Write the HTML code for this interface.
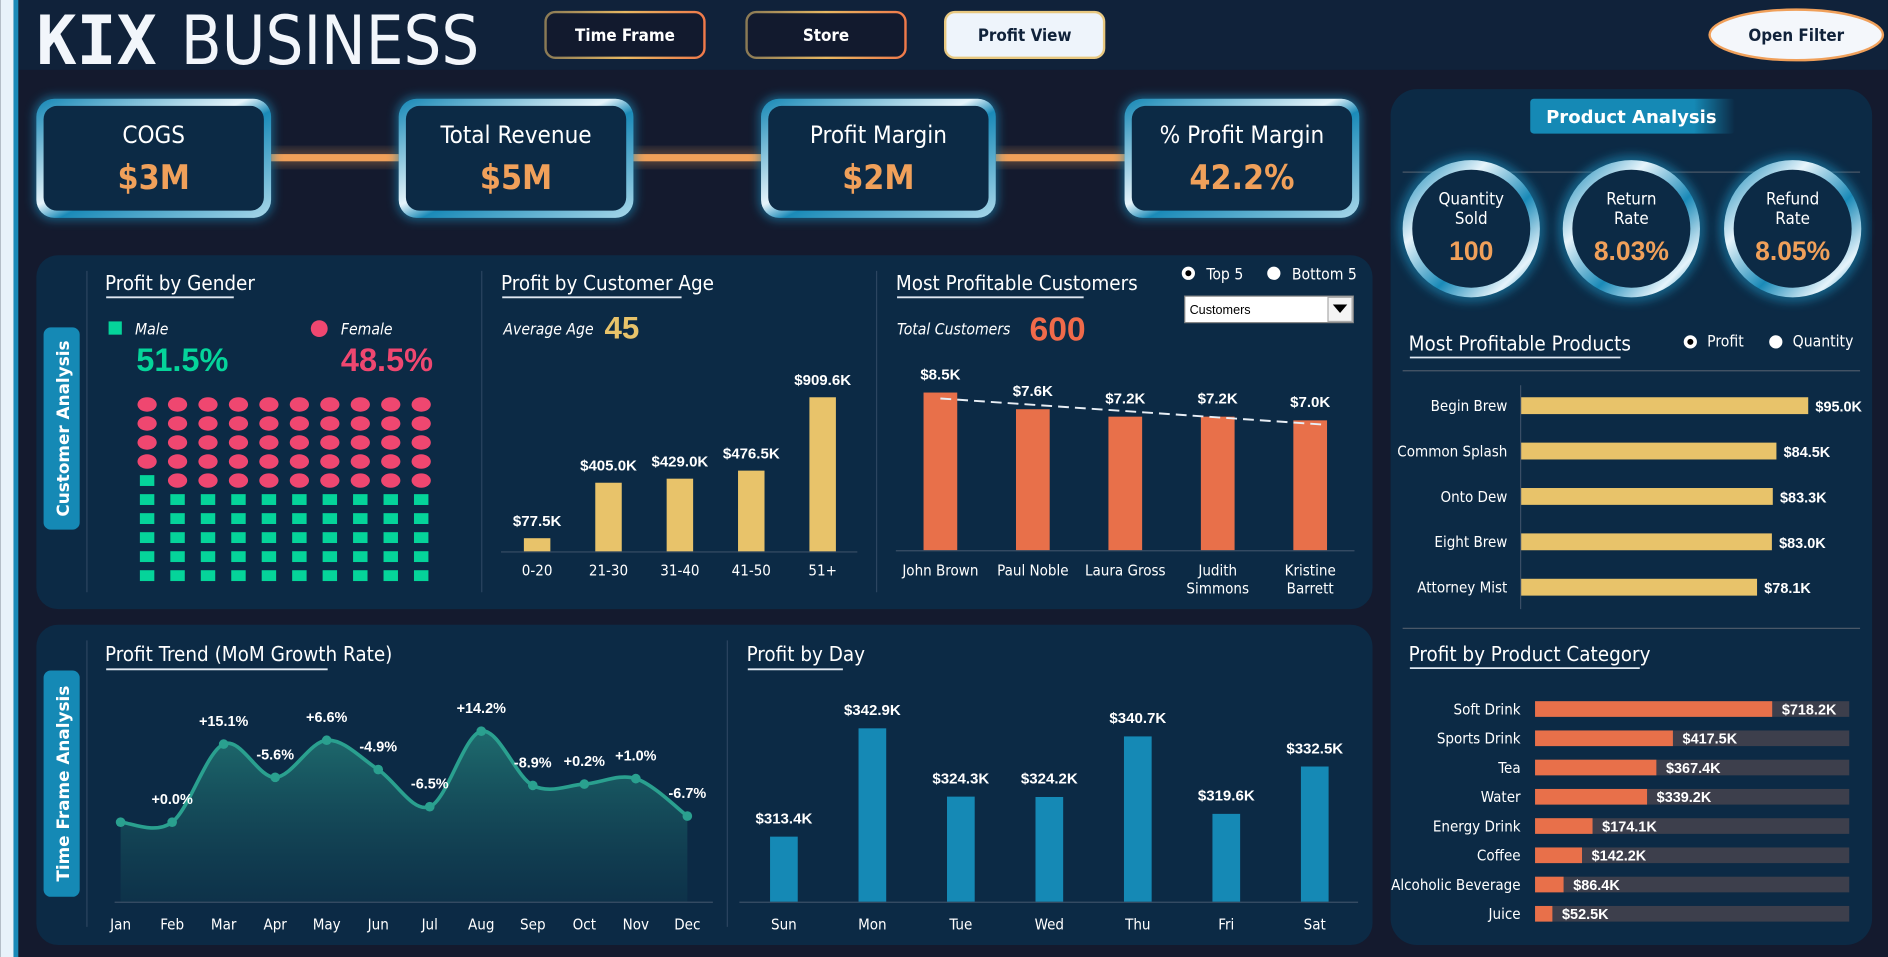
<!DOCTYPE html>
<html><head><meta charset="utf-8"><title>KIX Business Dashboard</title>
<style>
html,body{margin:0;padding:0;background:#141a2e;overflow:hidden;width:1888px;height:957px}
svg{display:block}
text{font-family:"DejaVu Sans Condensed","DejaVu Sans","Liberation Sans",sans-serif}
.b{font-family:"Liberation Sans",Arial,sans-serif;font-weight:bold}
</style></head>
<body>
<svg id="dash" width="1888" height="957" viewBox="0 0 1568 795" xmlns="http://www.w3.org/2000/svg">
<defs>
<linearGradient id="cardG" x1="0" y1="0" x2="1" y2="1">
<stop offset="0" stop-color="#1587b5"/><stop offset="0.45" stop-color="#e6f4fb"/><stop offset="0.55" stop-color="#1a8ab8"/><stop offset="1" stop-color="#a9d8ea"/></linearGradient>
<linearGradient id="btnG" x1="0" y1="0" x2="1" y2="0"><stop offset="0" stop-color="#8a7a55"/><stop offset="0.5" stop-color="#e8b862"/><stop offset="1" stop-color="#f07a4a"/></linearGradient>
<linearGradient id="ringG" x1="0" y1="0" x2="1" y2="1"><stop offset="0" stop-color="#1a8ab8"/><stop offset="0.3" stop-color="#e6f4fb"/><stop offset="0.6" stop-color="#1a8ab8"/><stop offset="0.85" stop-color="#e6f4fb"/><stop offset="1" stop-color="#1a8ab8"/></linearGradient>
<linearGradient id="areaG" x1="0" y1="0" x2="0" y2="1"><stop offset="0" stop-color="#1f6f70" stop-opacity="0.95"/><stop offset="1" stop-color="#0f3a4e" stop-opacity="0.5"/></linearGradient>
<linearGradient id="tabG" x1="0" y1="0" x2="1" y2="0"><stop offset="0" stop-color="#1589b5"/><stop offset="0.8" stop-color="#1589b5"/><stop offset="1" stop-color="#0c2a45"/></linearGradient>
<filter id="glow" x="-20%" y="-20%" width="140%" height="140%"><feGaussianBlur stdDeviation="4"/></filter>
</defs>

<!-- page chrome -->
<rect x="0" y="0" width="1568" height="795" fill="#141a2e"/>
<rect x="14" y="0" width="1554" height="58" fill="#10223a"/>
<rect x="0" y="0" width="11" height="795" fill="#e8f2fa"/>
<rect x="11" y="0" width="4" height="795" fill="#1a8ab8"/>

<g>
<text x="30" y="53" fill="#f2f6fb" font-size="56" font-weight="bold" style="font-family:'DejaVu Sans Mono',monospace" textLength="100" lengthAdjust="spacingAndGlyphs">KIX</text>
<text x="150" y="53" fill="#f2f6fb" font-size="56" textLength="248" lengthAdjust="spacingAndGlyphs">BUSINESS</text>
</g>

<g>
<rect x="453" y="10" width="132" height="38" rx="8" fill="#121a2e" stroke="url(#btnG)" stroke-width="2"/>
<text x="519" y="34" fill="#fff" font-size="14" font-weight="bold" text-anchor="middle">Time Frame</text></g>
<g>
<rect x="620" y="10" width="132" height="38" rx="8" fill="#121a2e" stroke="url(#btnG)" stroke-width="2"/>
<text x="686" y="34" fill="#fff" font-size="14" font-weight="bold" text-anchor="middle">Store</text></g>
<g>
<rect x="785" y="10" width="132" height="38" rx="8" fill="#eef4fb" stroke="#e8c880" stroke-width="2"/>
<text x="851" y="34" fill="#10223a" font-size="14" font-weight="bold" text-anchor="middle">Profit View</text></g>
<g>
<ellipse cx="1492" cy="29" rx="72" ry="21" fill="#f4f7fb" stroke="#f0a05a" stroke-width="2"/>
<text x="1492" y="34" fill="#10223a" font-size="14" font-weight="bold" text-anchor="middle">Open Filter</text></g>

<!-- KPI cards -->
<g id="kpis"></g>

<!-- customer analysis panel -->
<rect x="30" y="212" width="1110" height="294" rx="18" fill="#0c2a45"/>
<g>
<rect x="36" y="272" width="30" height="168" rx="6" fill="#1589b5"/>
<text transform="translate(57,356) rotate(-90)" fill="#fff" font-size="14" font-weight="bold" text-anchor="middle" style="font-family:'DejaVu Sans',sans-serif">Customer Analysis</text></g>
<line x1="72" y1="225" x2="72" y2="492" stroke="#2c4560"/>
<line x1="400" y1="225" x2="400" y2="492" stroke="#2c4560"/>
<line x1="728" y1="225" x2="728" y2="492" stroke="#2c4560"/>

<g>
<text x="87" y="241" fill="#fff" font-size="17">Profit by Gender</text>
<line x1="88" y1="247" x2="194" y2="247" stroke="#dfe8f2" stroke-width="1.5"/></g>
<g>
<rect x="90" y="267" width="11" height="11" fill="#05d49a"/>
<text x="112" y="278" fill="#fff" font-size="13" font-style="italic">Male</text>
<circle cx="265" cy="273" r="7" fill="#ef4770"/>
<text x="283" y="278" fill="#fff" font-size="13" font-style="italic">Female</text>
<text x="113" y="308" fill="#05d49a" font-size="27" class="b">51.5%</text>
<text x="283" y="308" fill="#ef4770" font-size="27" class="b">48.5%</text></g>
<g id="waffle"></g>

<g>
<text x="416" y="241" fill="#fff" font-size="17">Profit by Customer Age</text>
<line x1="417" y1="247" x2="566" y2="247" stroke="#dfe8f2" stroke-width="1.5"/></g>
<text x="418" y="278" fill="#fff" font-size="13" font-style="italic">Average Age</text>
<text x="502" y="281" fill="#e8c36a" font-size="26" class="b">45</text>
<g id="ageChart"></g>

<g>
<text x="744" y="241" fill="#fff" font-size="17">Most Profitable Customers</text>
<line x1="745" y1="247" x2="900" y2="247" stroke="#dfe8f2" stroke-width="1.5"/></g>
<text x="745" y="278" fill="#fff" font-size="13" font-style="italic">Total Customers</text>
<text x="855" y="283" fill="#f06a4a" font-size="28" class="b">600</text>
<g><circle cx="987" cy="227" r="5.5" fill="#fff"/><circle cx="987" cy="227" r="2.5" fill="#000"/><text x="1002" y="232" fill="#fff" font-size="13">Top 5</text></g>
<g><circle cx="1058" cy="227" r="5.5" fill="#fff"/><text x="1073" y="232" fill="#fff" font-size="13">Bottom 5</text></g>
<g>
<rect x="984" y="246" width="140" height="22" fill="#fff" stroke="#888"/>
<text x="988" y="261" fill="#000" font-size="10.5" style="font-family:'Liberation Sans',sans-serif">Customers</text>
<rect x="1103" y="247" width="20" height="20" fill="#f4f4f4" stroke="#aaa"/>
<path d="M1107,253 L1119,253 L1113,260 Z" fill="#000"/></g>
<g id="custChart"></g>

<!-- time frame panel -->
<rect x="30" y="519" width="1110" height="266" rx="18" fill="#0c2a45"/>
<g>
<rect x="36" y="557" width="30" height="188" rx="6" fill="#1589b5"/>
<text transform="translate(57,651) rotate(-90)" fill="#fff" font-size="14" font-weight="bold" text-anchor="middle" style="font-family:'DejaVu Sans',sans-serif">Time Frame Analysis</text></g>
<line x1="72" y1="532" x2="72" y2="770" stroke="#2c4560"/>
<line x1="604" y1="532" x2="604" y2="770" stroke="#2c4560"/>
<g>
<text x="87" y="549" fill="#fff" font-size="17">Profit Trend (MoM Growth Rate)</text>
<line x1="88" y1="556" x2="272" y2="556" stroke="#dfe8f2" stroke-width="1.5"/></g>
<g id="trendChart"></g>
<g>
<text x="620" y="549" fill="#fff" font-size="17">Profit by Day</text>
<line x1="621" y1="556" x2="700" y2="556" stroke="#dfe8f2" stroke-width="1.5"/></g>
<g id="dayChart"></g>

<!-- product panel -->
<rect x="1155" y="74" width="400" height="711" rx="22" fill="#0c2a45"/>
<g>
<rect x="1271" y="82" width="170" height="29" rx="3" fill="url(#tabG)"/>
<text x="1355" y="102" fill="#fff" font-size="15" font-weight="bold" text-anchor="middle" style="font-family:'DejaVu Sans',sans-serif">Product Analysis</text></g>
<line x1="1165" y1="143" x2="1545" y2="143" stroke="#4a5868"/>
<line x1="1165" y1="308" x2="1545" y2="308" stroke="#4a5868"/>
<g id="rings"></g>
<g>
<text x="1170" y="291" fill="#fff" font-size="17">Most Profitable Products</text>
<line x1="1171" y1="297" x2="1346" y2="297" stroke="#dfe8f2" stroke-width="1.5"/></g>
<g><circle cx="1404" cy="284" r="5.5" fill="#fff"/><circle cx="1404" cy="284" r="2.5" fill="#000"/><text x="1418" y="288" fill="#fff" font-size="13">Profit</text></g>
<g><circle cx="1475" cy="284" r="5.5" fill="#fff"/><text x="1489" y="288" fill="#fff" font-size="13">Quantity</text></g>
<line x1="1165" y1="522" x2="1545" y2="522" stroke="#4a5868"/>
<g id="prodChart"></g>
<g>
<text x="1170" y="549" fill="#fff" font-size="17">Profit by Product Category</text>
<line x1="1171" y1="555" x2="1362" y2="555" stroke="#dfe8f2" stroke-width="1.5"/></g>
<g id="catChart"></g>
</svg>

<script>
// ---- data ----
const kpiTitles = ["COGS","Total Revenue","Profit Margin","% Profit Margin"];
const kpiValues = ["$3M","$5M","$2M","42.2%"];
const ringTitles = [["Quantity","Sold"],["Return","Rate"],["Refund","Rate"]];
const ringValues = ["100","8.03%","8.05%"];
const femaleCount = 49;
const ageGroups = ["0-20","21-30","31-40","41-50","51+"];
const ageProfit = [77.5,405.0,429.0,476.5,909.6];
const customerNames = [["John Brown"],["Paul Noble"],["Laura Gross"],["Judith","Simmons"],["Kristine","Barrett"]];
const customerProfit = [8.5,7.6,7.2,7.2,7.0];
const months = ["Jan","Feb","Mar","Apr","May","Jun","Jul","Aug","Sep","Oct","Nov","Dec"];
const monthProfit = [160,160,184.2,173.9,185.4,176.3,164.8,188.2,171.4,171.8,173.5,161.9];
const momLabels = ["","+0.0%","+15.1%","-5.6%","+6.6%","-4.9%","-6.5%","+14.2%","-8.9%","+0.2%","+1.0%","-6.7%"];
const days = ["Sun","Mon","Tue","Wed","Thu","Fri","Sat"];
const dayProfit = [313.4,342.9,324.3,324.2,340.7,319.6,332.5];
const products = ["Begin Brew","Common Splash","Onto Dew","Eight Brew","Attorney Mist"];
const productProfit = [95.0,84.5,83.3,83.0,78.1];
const categories = ["Soft Drink","Sports Drink","Tea","Water","Energy Drink","Coffee","Alcoholic Beverage","Juice"];
const categoryProfit = [718.2,417.5,367.4,339.2,174.1,142.2,86.4,52.5];

const NS="http://www.w3.org/2000/svg";
function mk(tag, attrs, parent){const e=document.createElementNS(NS,tag);for(const k in attrs)e.setAttribute(k,attrs[k]);parent.appendChild(e);return e;}
function txt(s, attrs, parent){const e=mk('text',attrs,parent);e.textContent=s;return e;}
const $=id=>document.getElementById(id);

// KPI cards
const kpiX=[30,331,632,934];
const kg=$('kpis');
for(let i=0;i<3;i++){
  const c=mk('rect',{x:kpiX[i]+195,y:128,width:kpiX[i+1]-kpiX[i]-195,height:6,fill:'#f0a05a'},kg);
  
  
  mk('rect',{x:kpiX[i]+195,y:124,width:kpiX[i+1]-kpiX[i]-195,height:14,fill:'#f0a05a',opacity:0.3,filter:'url(#glow)'},kg);
}
kpiTitles.forEach((t,i)=>{
  const g=mk('g',{},kg);
  
  
  mk('rect',{x:kpiX[i]-2,y:80,width:199,height:103,rx:16,fill:'#1a8ab8',opacity:0.6,filter:'url(#glow)'},g);
  mk('rect',{x:kpiX[i],y:82,width:195,height:99,rx:15,fill:'url(#cardG)'},g);
  mk('rect',{x:kpiX[i]+6,y:88,width:183,height:87,rx:11,fill:'#0c2a45'},g);
  txt(t,{x:kpiX[i]+97.5,y:119,fill:'#fff','font-size':20,'text-anchor':'middle'},g);
  txt(kpiValues[i],{x:kpiX[i]+97.5,y:157,fill:'#f0a05a','font-size':28,'font-weight':'bold','text-anchor':'middle'},g);
});

// rings
const ringX=[1222,1355,1489], rg=$('rings');
ringTitles.forEach((t,i)=>{
  const g=mk('g',{},rg);
  
  
  mk('circle',{cx:ringX[i],cy:190,r:56,fill:'none',stroke:'#1a8ab8','stroke-width':10,opacity:0.6,filter:'url(#glow)'},g);
  mk('circle',{cx:ringX[i],cy:190,r:53,fill:'#0c2a45',stroke:'url(#ringG)','stroke-width':8},g);
  txt(t[0],{x:ringX[i],y:170,fill:'#fff','font-size':14,'text-anchor':'middle'},g);
  txt(t[1],{x:ringX[i],y:186,fill:'#fff','font-size':14,'text-anchor':'middle'},g);
  txt(ringValues[i],{x:ringX[i],y:216,fill:'#f0a05a','font-size':22,'font-weight':'bold','text-anchor':'middle','class':'b'},g);
});

// waffle
const wg=$('waffle');
for(let r=0;r<10;r++)for(let c=0;c<10;c++){
  const idx=r*10+c, cx=122+c*25.3, cy=336+r*15.8;
  // female fills from bottom-right backwards: last femaleCount cells in reverse order fill top
  const fromEnd=99-idx; // position counting from end
  const isFemale=(idx>=100-100) && ( (99-idx) >= (100-femaleCount) ? false : true );
  let el;
  // top cells are female except the first cell of the row where female run ends
  const femaleCells = idx < 50 && !(idx===40 && femaleCount<50) ;
  if(idx < 50 && (idx!==40 || femaleCount>=50)){
    el=mk('ellipse',{cx:cx,cy:cy,rx:8,ry:6,fill:'#ef4770'},wg);
    
  } else {
    el=mk('rect',{x:cx-6,y:cy-4.5,width:12,height:9,fill:'#05d49a'},wg);
    
  }
  
}

// age chart
const ageG=$('ageChart'), ageX=i=>446+i*59.3, ageY=v=>458-v*0.1407;
mk('line',{x1:416,y1:458.5,x2:712,y2:458.5,stroke:'#3a4f66'},ageG);
ageGroups.forEach((a,i)=>{
  const b=mk('rect',{x:ageX(i)-11,y:ageY(ageProfit[i]),width:22,height:458-ageY(ageProfit[i]),fill:'#e8c36a'},ageG);
  
  
  txt('$'+ageProfit[i].toFixed(1)+'K',{x:ageX(i),y:ageY(ageProfit[i])-10,fill:'#fff','font-size':12.5,'text-anchor':'middle','class':'b'},ageG);
  txt(a,{x:ageX(i),y:478,fill:'#fff','font-size':12.5,'text-anchor':'middle'},ageG);
});

// customers chart
const cg=$('custChart'), cX=i=>781+i*76.8, cY=v=>457-v*15.4;
mk('line',{x1:744,y1:457.5,x2:1125,y2:457.5,stroke:'#3a4f66'},cg);
customerNames.forEach((n,i)=>{
  const b=mk('rect',{x:cX(i)-14,y:cY(customerProfit[i]),width:28,height:457-cY(customerProfit[i]),fill:'#e8704a'},cg);
  
  
  txt('$'+customerProfit[i].toFixed(1)+'K',{x:cX(i),y:cY(customerProfit[i])-11,fill:'#fff','font-size':12.5,'text-anchor':'middle','class':'b'},cg);
  n.forEach((l,j)=>txt(l,{x:cX(i),y:478+j*15,fill:'#fff','font-size':12.5,'text-anchor':'middle'},cg));
});
{ const n=customerProfit.length, mx=(n-1)/2, my=customerProfit.reduce((a,b)=>a+b,0)/n;
  let sxy=0,sxx=0; customerProfit.forEach((v,i)=>{sxy+=(i-mx)*(v-my);sxx+=(i-mx)*(i-mx);});
  const s=sxy/sxx;
  const tl=mk('line',{x1:cX(0),y1:cY(my-s*mx),x2:cX(n-1)+14,y2:cY(my+s*(n-1-mx)+s*0.18),stroke:'#e8eef5','stroke-width':1.6,'stroke-dasharray':'9,5'},cg);
  
  
}

// trend chart
const tg=$('trendChart'), tX=i=>100+i*42.8, tY=v=>683-(v-160)*2.68;
const pts=monthProfit.map((v,i)=>[tX(i),tY(v)]);
let d='M'+pts[0][0]+','+pts[0][1];
for(let i=0;i<pts.length-1;i++){
  const p0=pts[Math.max(0,i-1)],p1=pts[i],p2=pts[i+1],p3=pts[Math.min(pts.length-1,i+2)];
  const c1=[p1[0]+(p2[0]-p0[0])/6,p1[1]+(p2[1]-p0[1])/6], c2=[p2[0]-(p3[0]-p1[0])/6,p2[1]-(p3[1]-p1[1])/6];
  d+=' C'+c1.join(',')+' '+c2.join(',')+' '+p2.join(',');
}
const area=mk('path',{d:d+' L'+pts[pts.length-1][0]+',749 L'+pts[0][0]+',749 Z',fill:'url(#areaG)'},tg);


mk('line',{x1:95,y1:749.5,x2:592,y2:749.5,stroke:'#3a4f66'},tg);
const tl=mk('path',{d:d,fill:'none',stroke:'#2aa08f','stroke-width':3},tg);


months.forEach((m,i)=>{
  const p=mk('circle',{cx:pts[i][0],cy:pts[i][1],r:4,fill:'#2aa08f'},tg);
  
  
  if(momLabels[i])txt(momLabels[i],{x:pts[i][0],y:pts[i][1]-15,fill:'#fff','font-size':12,'text-anchor':'middle','class':'b'},tg);
  txt(m,{x:pts[i][0],y:772,fill:'#fff','font-size':12.5,'text-anchor':'middle'},tg);
});

// day chart
const dg=$('dayChart'), dX=i=>651+i*73.5, dY=v=>749-(v-295.7)*3.05;
mk('line',{x1:614,y1:749.5,x2:1128,y2:749.5,stroke:'#3a4f66'},dg);
days.forEach((dn,i)=>{
  const b=mk('rect',{x:dX(i)-11.5,y:dY(dayProfit[i]),width:23,height:749-dY(dayProfit[i]),fill:'#1589b5'},dg);
  
  
  txt('$'+dayProfit[i].toFixed(1)+'K',{x:dX(i),y:dY(dayProfit[i])-11,fill:'#fff','font-size':12.5,'text-anchor':'middle','class':'b'},dg);
  txt(dn,{x:dX(i),y:772,fill:'#fff','font-size':12.5,'text-anchor':'middle'},dg);
});

// products
const pg=$('prodChart'), pY=i=>337+i*37.7, pW=v=>v*2.515;
productProfit.forEach((v,i)=>{
  const b=mk('rect',{x:1263,y:pY(i)-7,width:pW(v),height:14,fill:'#e8c36a'},pg);
  
  
  txt(products[i],{x:1252,y:pY(i)+4.5,fill:'#fff','font-size':12.5,'text-anchor':'end'},pg);
  txt('$'+v.toFixed(1)+'K',{x:1263+pW(v)+6,y:pY(i)+5,fill:'#fff','font-size':12,'class':'b'},pg);
});
mk('line',{x1:1263,y1:320,x2:1263,y2:506,stroke:'#3a4f66'},pg);

// categories
const kg2=$('catChart'), kY=i=>589+i*24.3, kW=v=>v*0.2743;
categoryProfit.forEach((v,i)=>{
  const tr=mk('rect',{x:1275,y:kY(i)-6.5,width:261,height:13,fill:'#3d3f4c'},kg2);
  
  
  const b=mk('rect',{x:1275,y:kY(i)-6.5,width:kW(v),height:13,fill:'#e8704a'},kg2);
  
  
  txt(categories[i],{x:1263,y:kY(i)+4.5,fill:'#fff','font-size':12.5,'text-anchor':'end'},kg2);
  txt('$'+v.toFixed(1)+'K',{x:1275+kW(v)+8,y:kY(i)+4.5,fill:'#fff','font-size':12,'class':'b'},kg2);
});
</script>
</body></html>
